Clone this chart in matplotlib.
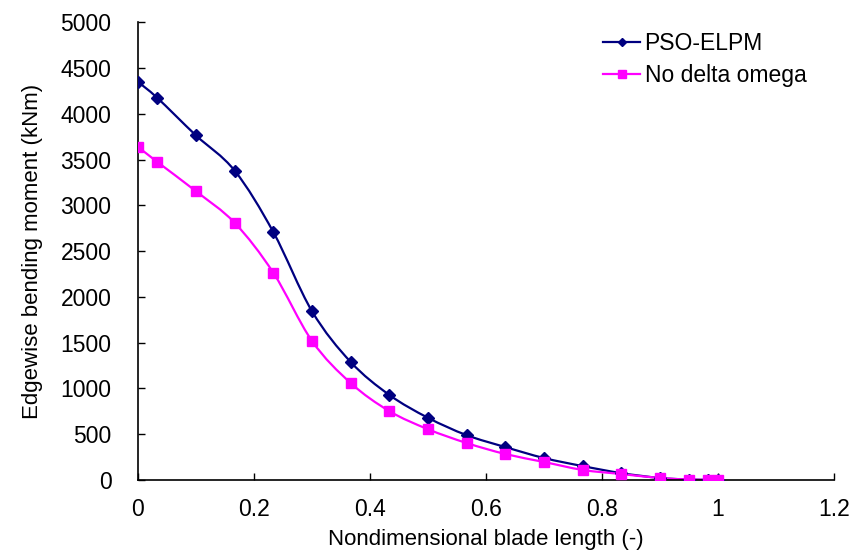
import matplotlib.pyplot as plt
import numpy as np
from matplotlib.path import Path
from matplotlib.patches import PathPatch

plt.rcParams['font.family'] = ['Liberation Sans', 'DejaVu Sans']

# blade stations (nondimensional) and edgewise moments (kNm)
x = [0, 0.0333, 0.1, 0.1667, 0.2333, 0.3, 0.3667, 0.4333, 0.5, 0.5667,
     0.6333, 0.7, 0.7667, 0.8333, 0.9, 0.95, 0.9833, 1.0]
pso_elpm = [4350, 4175, 3765, 3380, 2710, 1845, 1290, 930, 680, 490,
            360, 240, 152, 75, 22, 5, 2, 0]
no_delta_omega = [3640, 3475, 3155, 2810, 2265, 1520, 1060, 753, 555, 404,
                  284, 197, 110, 65, 22, 5, 2, 0]


def smooth_path(xs, ys, t=0.5 / 3):
    # Catmull-Rom style cubic Bezier through the points (like Excel smoothing)
    xs = np.asarray(xs, float)
    ys = np.asarray(ys, float)
    n = len(xs)
    verts = [(xs[0], ys[0])]
    codes = [Path.MOVETO]
    for i in range(n - 1):
        i0 = max(i - 1, 0)
        i3 = min(i + 2, n - 1)
        c1 = (xs[i] + (xs[i + 1] - xs[i0]) * t, ys[i] + (ys[i + 1] - ys[i0]) * t)
        c2 = (xs[i + 1] - (xs[i3] - xs[i]) * t, ys[i + 1] - (ys[i3] - ys[i]) * t)
        verts += [c1, c2, (xs[i + 1], ys[i + 1])]
        codes += [Path.CURVE4] * 3
    return Path(verts, codes)


fig = plt.figure(figsize=(8.57, 5.54), dpi=100)
ax = fig.add_axes([0.161, 0.1336, 0.812, 0.826])

series = [
    ('PSO-ELPM', pso_elpm, '#000080', 'D', 6),
    ('No delta omega', no_delta_omega, '#FF00FF', 's', 7.5),
]
for label, ys, color, marker, ms in series:
    ax.add_patch(PathPatch(smooth_path(x, ys), facecolor='none',
                           edgecolor=color, lw=1.6, zorder=2))
    ax.plot(x, ys, linestyle='none', marker=marker, ms=ms, color=color, zorder=3)
    # legend proxy
    ax.plot([], [], color=color, lw=1.6, marker=marker, ms=ms * 0.7, label=label)

ax.set_xlim(0, 1.2)
ax.set_ylim(0, 5000)
ax.set_xticks(np.arange(0, 1.21, 0.2))
ax.set_xticklabels(['0', '0.2', '0.4', '0.6', '0.8', '1', '1.2'])
ax.set_yticks(np.arange(0, 5001, 500))

for side in ['top', 'right']:
    ax.spines[side].set_visible(False)
for side in ['left', 'bottom']:
    ax.spines[side].set_linewidth(1.2)

ax.tick_params(direction='in', length=5, width=1, labelsize=16.5)
ax.tick_params(axis='y', pad=19)
ax.tick_params(axis='x', pad=13)
ax.set_xlabel('Nondimensional blade length (-)', fontsize=16, labelpad=6)
ax.set_ylabel('Edgewise bending moment (kNm)', fontsize=16, labelpad=13)

ax.legend(loc='upper right', bbox_to_anchor=(0.99, 1.025), frameon=False,
          fontsize=16.5, handlelength=1.6, handletextpad=0.2, labelspacing=0.4)

fig.savefig('out.png', dpi=100)
